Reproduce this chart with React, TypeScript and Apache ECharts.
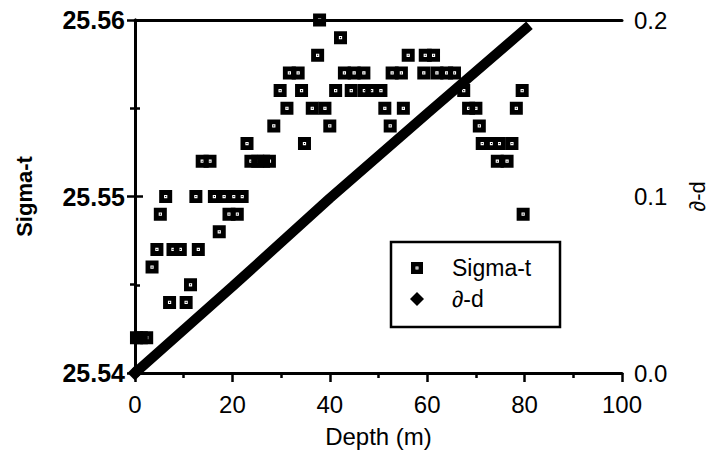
import React, { useEffect, useRef } from "react";
import * as echarts from "echarts";

// Sigma-t observations: [depth (m), sigma-t]
const sigmaDepths: number[] = [
  0.3, 1.3, 2.4,
  3.5,
  4.5, 7.8, 9.3, 13.0,
  5.2, 19.3, 21.0, 79.7,
  6.3, 12.5, 16.3, 18.3, 20.3, 22.0,
  7.1, 10.5,
  11.4,
  17.3,
  13.8, 15.4, 23.8, 25.2, 26.4, 27.6, 74.4, 76.4,
  23.0, 34.8, 71.3, 73.2, 74.8, 77.4,
  28.5, 40.0, 52.4, 70.7,
  31.2, 36.4, 39.0, 51.3, 55.1, 68.5, 70.0, 78.3,
  29.8, 34.2, 41.2, 44.4, 47.1, 48.6, 50.5, 67.5, 79.5,
  31.7, 33.5, 43.0, 45.0, 47.0, 52.8, 54.7, 59.3, 62.0, 64.0, 65.6,
  37.5, 56.1, 59.6, 61.3,
  42.2,
  37.9,
];
const sigmaValues: number[] = [
  25.542, 25.542, 25.542,
  25.546,
  25.547, 25.547, 25.547, 25.547,
  25.549, 25.549, 25.549, 25.549,
  25.55, 25.55, 25.55, 25.55, 25.55, 25.55,
  25.544, 25.544,
  25.545,
  25.548,
  25.552, 25.552, 25.552, 25.552, 25.552, 25.552, 25.552, 25.552,
  25.553, 25.553, 25.553, 25.553, 25.553, 25.553,
  25.554, 25.554, 25.554, 25.554,
  25.555, 25.555, 25.555, 25.555, 25.555, 25.555, 25.555, 25.555,
  25.556, 25.556, 25.556, 25.556, 25.556, 25.556, 25.556, 25.556, 25.556,
  25.557, 25.557, 25.557, 25.557, 25.557, 25.557, 25.557, 25.557, 25.557, 25.557, 25.557,
  25.558, 25.558, 25.558, 25.558,
  25.559,
  25.56,
];

// ∂-d trace read along the thick diagonal band
const ddDepths: number[] = [0, 20, 40, 60, 81];
const ddValues: number[] = [0, 0.049, 0.099, 0.147, 0.197];

const legendLabels: string[] = ["Sigma-t", "∂-d"];

const FONT = "'Liberation Sans', Arial, Helvetica, sans-serif";
const SQUARE =
  "path://M0,0H12V12H0Z M4.5,4.5V7.5H7.5V4.5Z M5.5,5.5H6.5V6.5H5.5Z";

export default function App() {
  const ref = useRef<HTMLDivElement>(null);

  useEffect(() => {
    if (!ref.current) return;
    const chart = echarts.init(ref.current, null, { renderer: "svg" });
    const sigmaData = sigmaDepths.map((d, i) => [d, sigmaValues[i]]);
    const ddData = ddDepths.map((d, i) => [d, ddValues[i]]);
    const axisLine = { show: true, lineStyle: { color: "#000", width: 3 } };

    chart.setOption({
      animation: false,
      backgroundColor: "#fff",
      grid: { left: 135, right: 89, top: 20, bottom: 83, containLabel: false },
      xAxis: [
        {
          type: "value",
          min: 0,
          max: 100,
          interval: 20,
          position: "bottom",
          name: "Depth (m)",
          nameLocation: "middle",
          nameGap: 51,
          nameTextStyle: { fontFamily: FONT, fontSize: 24, color: "#000" },
          axisLine,
          axisTick: { show: true, inside: false, length: 9, lineStyle: { color: "#000", width: 2.5 } },
          minorTick: { show: true, splitNumber: 2, length: 5, lineStyle: { color: "#000", width: 2.5 } },
          axisLabel: { margin: 19, fontFamily: FONT, fontSize: 24, color: "#000" },
          splitLine: { show: false },
          minorSplitLine: { show: false },
        },
        {
          type: "value",
          min: 0,
          max: 100,
          position: "top",
          axisLine,
          axisTick: { show: false },
          axisLabel: { show: false },
          splitLine: { show: false },
        },
      ],
      yAxis: [
        {
          type: "value",
          min: 25.54,
          max: 25.56,
          interval: 0.01,
          position: "left",
          name: "Sigma-t",
          nameLocation: "middle",
          nameGap: 100,
          nameTextStyle: { fontFamily: FONT, fontSize: 22, fontWeight: "bold", color: "#000" },
          axisLine,
          axisTick: { show: true, length: 8, lineStyle: { color: "#000", width: 2.5 } },
          minorTick: { show: true, splitNumber: 2, length: 5, lineStyle: { color: "#000", width: 2.5 } },
          axisLabel: {
            margin: 10,
            fontFamily: FONT,
            fontSize: 25,
            fontWeight: "bold",
            color: "#000",
            formatter: (v: number) => v.toFixed(2),
          },
          splitLine: { show: false },
          minorSplitLine: { show: false },
        },
        {
          type: "value",
          min: 0,
          max: 0.2,
          interval: 0.1,
          position: "right",
          name: "∂-d",
          nameLocation: "middle",
          nameGap: 64,
          nameRotate: 90,
          nameTextStyle: { fontFamily: FONT, fontSize: 22, color: "#000" },
          axisLine,
          axisTick: { show: true, length: 8, lineStyle: { color: "#000", width: 2.5 } },
          minorTick: { show: true, splitNumber: 2, length: 5, lineStyle: { color: "#000", width: 2.5 } },
          axisLabel: {
            margin: 12,
            fontFamily: FONT,
            fontSize: 24,
            color: "#000",
            formatter: (v: number) => v.toFixed(1),
          },
          splitLine: { show: false },
          minorSplitLine: { show: false },
        },
      ],
      series: [
        {
          name: legendLabels[0],
          type: "scatter",
          xAxisIndex: 0,
          yAxisIndex: 0,
          symbol: SQUARE,
          symbolSize: 13,
          itemStyle: { color: "#000", opacity: 1 },
          data: sigmaData,
          clip: false,
          z: 2,
        },
        {
          name: legendLabels[1],
          type: "line",
          xAxisIndex: 0,
          yAxisIndex: 1,
          symbol: "diamond",
          symbolSize: (_v: any, p: any) => (p.dataIndex === 0 ? 15 : 0),
          showAllSymbol: true,
          itemStyle: { color: "#000" },
          lineStyle: { color: "#000", width: 10, cap: "butt" },
          data: ddData,
          clip: false,
          z: 3,
        },
      ],
      graphic: [
        {
          type: "group",
          z: 100,
          children: [
            {
              type: "rect",
              shape: { x: 391, y: 242, width: 169, height: 85 },
              style: { fill: "#fff", stroke: "#000", lineWidth: 2.5 },
            },
            {
              type: "rect",
              shape: { x: 411, y: 262, width: 12, height: 12 },
              style: { fill: "#000" },
            },
            {
              type: "rect",
              shape: { x: 415.5, y: 266.5, width: 3, height: 3 },
              style: { fill: "#fff" },
            },
            {
              type: "rect",
              shape: { x: 416.5, y: 267.5, width: 1, height: 1 },
              style: { fill: "#000" },
            },
            {
              type: "polygon",
              shape: { points: [[417, 292], [424, 299], [417, 306], [410, 299]] },
              style: { fill: "#000" },
            },
            {
              type: "text",
              x: 452,
              y: 268,
              style: {
                text: legendLabels[0],
                fontFamily: FONT,
                fontSize: 23,
                fill: "#000",
                verticalAlign: "middle",
                align: "left",
              },
            },
            {
              type: "text",
              x: 452,
              y: 299,
              style: {
                text: legendLabels[1],
                fontFamily: FONT,
                fontSize: 23,
                fill: "#000",
                verticalAlign: "middle",
                align: "left",
              },
            },
          ],
        },
      ],
    });
    return () => chart.dispose();
  }, []);

  return <div ref={ref} style={{ width: 716, height: 456, position: "absolute", left: 0, top: 0 }} />;
}
